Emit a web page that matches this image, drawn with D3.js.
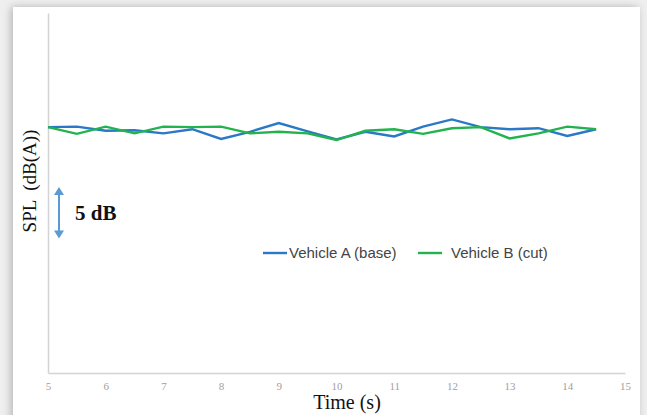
<!DOCTYPE html>
<html>
<head>
<meta charset="utf-8">
<script src="https://cdn.jsdelivr.net/npm/d3@7"></script>
<style>
  html, body { margin: 0; padding: 0; background: #efefef; }
  svg { display: block; }
</style>
</head>
<body>
<svg id="chart" width="647" height="415"></svg>
<script>
// time in seconds, one point every half second
const times = d3.range(5, 14.51, 0.5);
const vehicleA = [68.9, 68.95, 68.55, 68.6, 68.3, 68.7, 67.75, 68.45, 69.3, 68.5,
                  67.7, 68.45, 68.0, 68.95, 69.65, 68.9, 68.7, 68.8, 68.05, 68.7];
const vehicleB = [68.9, 68.25, 68.95, 68.3, 68.95, 68.9, 68.95, 68.3, 68.45, 68.3,
                  67.65, 68.55, 68.7, 68.25, 68.8, 68.9, 67.8, 68.3, 68.95, 68.7];
const xTicks = [5, 6, 7, 8, 9, 10, 11, 12, 13, 14, 15];
const seriesNames = ["Vehicle A (base)", "Vehicle B (cut)"];
const seriesColors = ["#2a78c6", "#22b34f"];

const svg = d3.select("#chart");

// card with soft shadow
const defs = svg.append("defs");
const f = defs.append("filter").attr("id", "shadow")
    .attr("x", "-10%").attr("y", "-10%").attr("width", "120%").attr("height", "120%");
f.append("feGaussianBlur").attr("in", "SourceAlpha").attr("stdDeviation", 4);
f.append("feOffset").attr("dx", -2).attr("dy", 0).attr("result", "b");
f.append("feComponentTransfer").append("feFuncA").attr("type", "linear").attr("slope", 0.25);
const m = f.append("feMerge");
m.append("feMergeNode");
m.append("feMergeNode").attr("in", "SourceGraphic");

svg.append("rect")
    .attr("x", 13).attr("y", 7).attr("width", 627).attr("height", 430)
    .attr("fill", "#fff").attr("filter", "url(#shadow)");

const x = d3.scaleLinear().domain([5, 15]).range([48, 625]);
const y = d3.scaleLinear().domain([45, 80]).range([373, 13]);

// x axis
const xAxis = svg.append("g")
    .attr("transform", "translate(0," + y(45) + ")")
    .call(d3.axisBottom(x).tickValues(xTicks).tickSize(0).tickPadding(9).tickFormat(d3.format("d")));
xAxis.select(".domain").attr("stroke", "#d3d3d3").attr("stroke-width", 1.5);
xAxis.selectAll("text")
    .attr("fill", "#a0a0a0")
    .style("font-family", "'Liberation Serif', serif")
    .style("font-size", "11px");

// y axis, no ticks
const yAxis = svg.append("g")
    .attr("transform", "translate(" + x(5) + ",0)")
    .call(d3.axisLeft(y).tickValues([]).tickSizeOuter(0));
yAxis.select(".domain").attr("stroke", "#d3d3d3").attr("stroke-width", 1.5);

// lines
const line = d3.line()
    .x((d, i) => x(times[i]))
    .y(d => y(d));

[vehicleA, vehicleB].forEach((s, i) => {
    svg.append("path")
        .datum(s)
        .attr("fill", "none")
        .attr("stroke", seriesColors[i])
        .attr("stroke-width", 2.4)
        .attr("stroke-linejoin", "miter")
        .attr("d", line);
});

// axis titles
svg.append("text")
    .attr("transform", "translate(36," + 181 + ") rotate(-90)")
    .attr("text-anchor", "middle")
    .style("font-family", "'Liberation Serif', serif")
    .style("font-size", "19px")
    .attr("fill", "#111")
    .attr("xml:space", "preserve")
    .text("SPL  (dB(A))");

svg.append("text")
    .attr("x", 347).attr("y", 409)
    .attr("text-anchor", "middle")
    .style("font-family", "'Liberation Serif', serif")
    .style("font-size", "20px")
    .attr("fill", "#111")
    .text("Time (s)");

// 5 dB scale arrow
const arrowX = 59;
const aTop = 187, aBot = aTop + (y(0) - y(5));
svg.append("line")
    .attr("x1", arrowX).attr("x2", arrowX)
    .attr("y1", aTop + 4).attr("y2", aBot - 4)
    .attr("stroke", "#5b9bd5").attr("stroke-width", 2);
svg.append("path")
    .attr("d", `M${arrowX - 5},${aTop + 8}L${arrowX},${aTop}L${arrowX + 5},${aTop + 8}Z`)
    .attr("fill", "#5b9bd5");
svg.append("path")
    .attr("d", `M${arrowX - 5},${aBot - 8}L${arrowX},${aBot}L${arrowX + 5},${aBot - 8}Z`)
    .attr("fill", "#5b9bd5");
svg.append("text")
    .attr("x", 75).attr("y", 220)
    .style("font-family", "'Liberation Serif', serif")
    .style("font-size", "21px")
    .style("font-weight", "bold")
    .attr("fill", "#111")
    .text("5 dB");

// legend
const legendX = [263, 418];
const legendTextX = [289, 451];
seriesNames.forEach((name, i) => {
    svg.append("line")
        .attr("x1", legendX[i]).attr("x2", legendX[i] + 24)
        .attr("y1", 253).attr("y2", 253)
        .attr("stroke", seriesColors[i]).attr("stroke-width", 2.4);
    svg.append("text")
        .attr("x", legendTextX[i]).attr("y", 258)
        .style("font-family", "'Liberation Sans', Arial, sans-serif")
        .style("font-size", "15px")
        .attr("fill", "#444")
        .text(name);
});
</script>
</body>
</html>
